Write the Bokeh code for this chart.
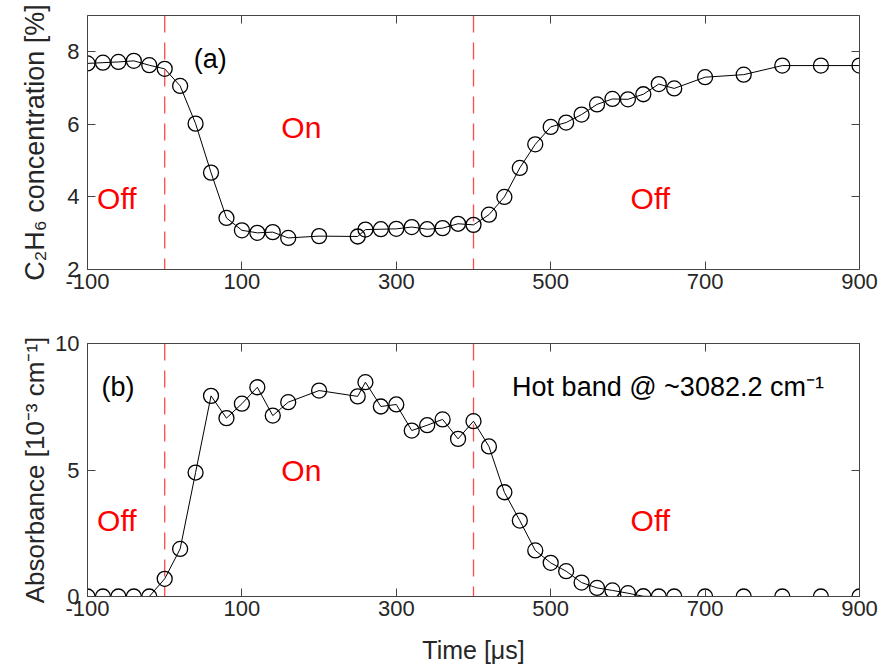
from bokeh.plotting import figure
from bokeh.layouts import column
from bokeh.models import Range1d, FixedTicker, LinearAxis, Span, CustomJSTickFormatter
from bokeh.core.properties import value
from bokeh.embed import file_html
from bokeh.resources import INLINE

# ---------------- data ----------------
time_us = [-100, -80, -60, -40, -20, 0, 20, 40, 60, 80, 100, 120, 140, 160, 200,
           250, 260, 280, 300, 320, 340, 360, 380, 400, 420, 440, 460, 480, 500,
           520, 540, 560, 580, 600, 620, 640, 660, 700, 750, 800, 850, 900]
c2h6_pct = [7.68, 7.70, 7.72, 7.75, 7.63, 7.53, 7.06, 6.02, 4.67, 3.42, 3.08, 3.01,
            3.03, 2.87, 2.92, 2.91, 3.10, 3.11, 3.12, 3.17, 3.11, 3.14, 3.26, 3.23,
            3.51, 4.00, 4.80, 5.45, 5.93, 6.05, 6.27, 6.55, 6.70, 6.69, 6.83, 7.11,
            6.99, 7.30, 7.37, 7.62, 7.62, 7.62]
absorbance = [0.0, 0.0, 0.0, 0.0, 0.0, 0.70, 1.88, 4.90, 7.93, 7.05, 7.62, 8.27,
              7.15, 7.68, 8.14, 7.91, 8.47, 7.51, 7.59, 6.56, 6.77, 7.00, 6.23, 6.93,
              5.93, 4.12, 3.00, 1.82, 1.33, 1.00, 0.55, 0.34, 0.24, 0.13, 0.01, 0.0,
              0.0, 0.0, 0.0, 0.0, 0.0, 0.0]
switch_times = [0, 400]
x_ticks = [-100, 100, 300, 500, 700, 900]
top_y_ticks = [2, 4, 6, 8]
bottom_y_ticks = [0, 5, 10]
state_labels = ["Off", "On", "Off"]

# annotation anchors (data coordinates)
top_state_x = [-62, 177, 629]
top_state_y = [3.96, 5.92, 3.96]
bot_state_x = [-62, 177, 629]
bot_state_y = [3.0, 4.98, 3.0]

FONT = "Liberation Sans"
AXC = "#444444"
TXC = "#262626"


def style_axis(ax, ticks):
    ax.ticker = FixedTicker(ticks=ticks)
    ax.major_tick_in = 8
    ax.major_tick_out = 0
    ax.minor_tick_in = 0
    ax.minor_tick_out = 0
    ax.axis_line_color = AXC
    ax.major_tick_line_color = AXC
    ax.major_label_text_font = FONT
    ax.major_label_text_font_size = "22px"
    ax.major_label_text_color = TXC
    ax.axis_label_text_font = FONT
    ax.axis_label_text_font_size = "26px"
    ax.axis_label_text_font_style = "normal"
    ax.axis_label_text_color = TXC


def mirror_axis(p, ticks, side):
    ax = LinearAxis(formatter=CustomJSTickFormatter(code="return ''"))
    style_axis(ax, ticks)
    ax.major_label_text_font_size = "0px"
    ax.major_label_standoff = 0
    p.add_layout(ax, side)


def make_panel(height, yr, yticks, ys, ylabel, top_border, bottom_border,
               state_x, state_y, label_standoff_y):
    p = figure(width=878, height=height, x_range=Range1d(-100, 900), y_range=Range1d(*yr),
               output_backend="svg", toolbar_location=None,
               min_border_left=87, min_border_right=19,
               min_border_top=top_border, min_border_bottom=bottom_border,
               background_fill_color="white", border_fill_color="white")
    p.outline_line_color = None
    p.xgrid.visible = False
    p.ygrid.visible = False
    xax = p.below[0]
    yax = p.left[0]
    style_axis(xax, x_ticks)
    style_axis(yax, yticks)
    xax.formatter = CustomJSTickFormatter(code="return tick.toString()")
    xax.major_label_standoff = 4
    yax.major_label_standoff = 8
    yax.axis_label = ylabel
    yax.axis_label_standoff = label_standoff_y
    mirror_axis(p, x_ticks, "above")
    mirror_axis(p, yticks, "right")

    for t in switch_times:
        p.add_layout(Span(location=t, dimension="height", line_color="#ff4a4a",
                          line_dash="17 10", line_width=1.3, level="underlay"))

    p.line(time_us, ys, line_color="black", line_width=1)
    p.scatter(time_us, ys, marker="circle", size=15, fill_color=None,
              line_color="black", line_width=1.3)

    p.text(x=state_x, y=state_y, text=state_labels, text_font=value(FONT),
           text_font_size="30px", text_color="#ff0000",
           text_align="center", text_baseline="middle")
    return p, xax, yax


p1, _, y1 = make_panel(305, (2, 9), top_y_ticks, c2h6_pct, "C₂H₆ concentration [%]",
                       15, 36, top_state_x, top_state_y, 14)
y1.axis_label_text_font_size = "27px"
p1.text(x=[59], y=[7.8], text=["(a)"], text_font=value(FONT), text_font_size="27px",
        text_color="black", text_align="center", text_baseline="middle")

p2, x2, _ = make_panel(361, (0, 10), bottom_y_ticks, absorbance, "Absorbance [10⁻³ cm⁻¹]",
                       38, 70, bot_state_x, bot_state_y, 2)
x2.axis_label = "Time [μs]"
x2.axis_label_text_font_size = "25px"
x2.axis_label_standoff = 17
p2.text(x=[-60.5], y=[8.3], text=["(b)"], text_font=value(FONT), text_font_size="27px",
        text_color="black", text_align="center", text_baseline="middle")
p2.text(x=[450], y=[8.3], text=["Hot band @ ~3082.2 cm⁻¹"], text_font=value(FONT),
        text_font_size="27px", text_color="black", text_align="left",
        text_baseline="middle")

layout = column(p1, p2, spacing=0)

with open("out.html", "w") as f:
    f.write(file_html(layout, INLINE))
